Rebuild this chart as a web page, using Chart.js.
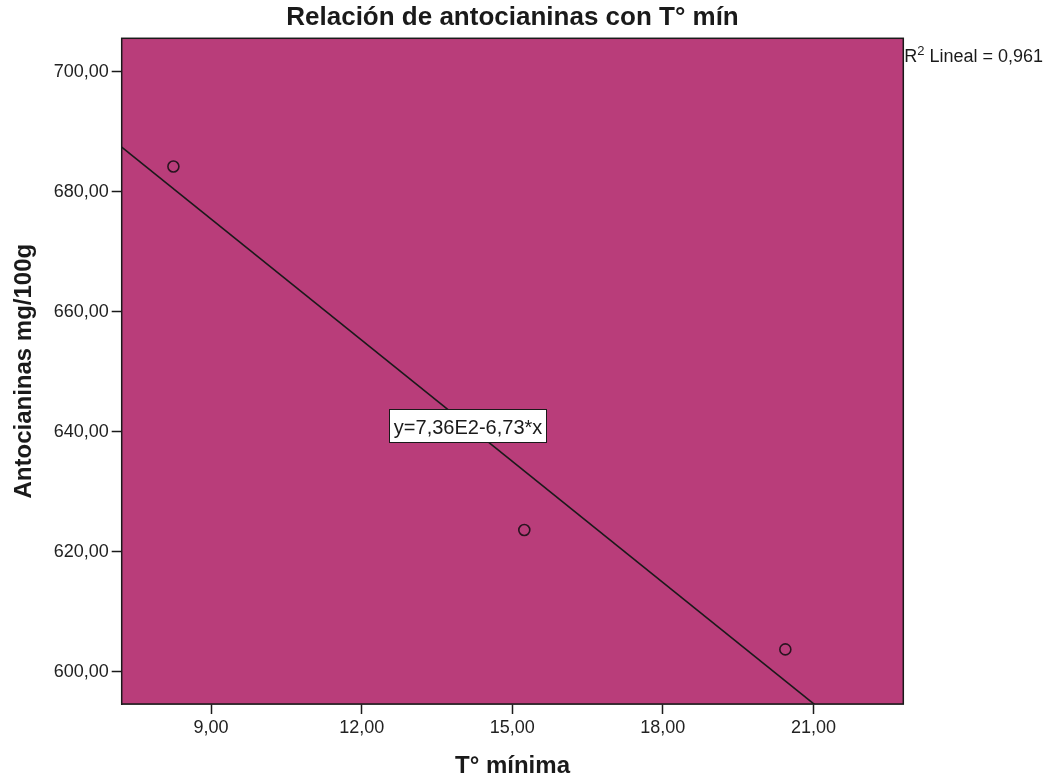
<!DOCTYPE html>
<html>
<head>
<meta charset="utf-8">
<script src="https://cdn.jsdelivr.net/npm/chart.js@4/dist/chart.umd.min.js"></script>
<style>
  html, body { margin: 0; padding: 0; background: #ffffff; }
  #wrap { width: 1052px; height: 783px; position: relative; }
</style>
</head>
<body>
<div id="wrap"><canvas id="c" width="1052" height="783"></canvas></div>
<script>
// ---- data ----
const tempMin = [8.25, 15.24, 20.44];          // T° mínima
const antocianinas = [684.2, 623.6, 603.7];    // Antocianinas mg/100g
const xTicks = [9, 12, 15, 18, 21];
const yTicks = [600, 620, 640, 660, 680, 700];
const fitIntercept = 736;      // y = 7,36E2 - 6,73*x
const fitSlope = -6.73;
const xRange = [7.22, 22.79];
const yRange = [594.6, 705.57];
const titleText = 'Relación de antocianinas con T° mín';
const xTitle = 'T° mínima';
const yTitle = 'Antocianinas mg/100g';
const equationText = 'y=7,36E2-6,73*x';
const equationAnchor = [14.12, 641.0];
const r2Text = ' Lineal = 0,961';

const FONT = '"Liberation Sans", Arial, Helvetica, sans-serif';
const PLOT_BG = '#b93d7a';
const INK = '#1a1a1a';

const fmt = v => v.toFixed(2).replace('.', ',');

const points = tempMin.map((x, i) => ({ x: x, y: antocianinas[i] }));
const fitLine = xRange.map(x => ({ x: x, y: fitIntercept + fitSlope * x }));

const plotDecor = {
  id: 'plotDecor',
  beforeDatasetsDraw(chart) {
    const { ctx, chartArea: a } = chart;
    ctx.save();
    ctx.fillStyle = PLOT_BG;
    ctx.fillRect(a.left, a.top, a.right - a.left, a.bottom - a.top);
    ctx.restore();
  },
  afterDraw(chart) {
    const { ctx, chartArea: a, scales } = chart;
    ctx.save();
    // frame
    ctx.strokeStyle = INK;
    ctx.lineWidth = 1.5;
    ctx.strokeRect(a.left, a.top, a.right - a.left, a.bottom - a.top);

    // equation label
    ctx.font = '20px ' + FONT;
    const cx = scales.x.getPixelForValue(equationAnchor[0]);
    const cy = scales.y.getPixelForValue(equationAnchor[1]);
    const tw = ctx.measureText(equationText).width;
    const bw = tw + 9, bh = 33;
    ctx.fillStyle = '#ffffff';
    ctx.fillRect(cx - bw / 2, cy - bh / 2, bw, bh);
    ctx.lineWidth = 1;
    ctx.strokeStyle = INK;
    ctx.strokeRect(Math.round(cx - bw / 2) + 0.5, Math.round(cy - bh / 2) + 0.5, Math.round(bw), bh);
    ctx.fillStyle = INK;
    ctx.textAlign = 'center';
    ctx.textBaseline = 'alphabetic';
    ctx.fillText(equationText, cx, cy + 8.5);

    // R² label
    ctx.textAlign = 'left';
    let x = a.right + 1;
    const base = 61.7;
    ctx.font = '18px ' + FONT;
    ctx.fillText('R', x, base);
    x += ctx.measureText('R').width;
    ctx.font = '13px ' + FONT;
    ctx.fillText('2', x, base - 7);
    x += ctx.measureText('2').width;
    ctx.font = '18px ' + FONT;
    ctx.fillText(r2Text, x, base);
    ctx.restore();
  }
};

new Chart(document.getElementById('c'), {
  type: 'scatter',
  data: {
    datasets: [
      {
        type: 'line',
        data: fitLine,
        borderColor: INK,
        borderWidth: 1.6,
        pointRadius: 0,
        fill: false,
        tension: 0,
        order: 2
      },
      {
        type: 'scatter',
        data: points,
        pointStyle: 'circle',
        pointRadius: 5.5,
        pointBorderWidth: 1.6,
        borderColor: '#2a1420',
        backgroundColor: 'rgba(0,0,0,0)',
        order: 1
      }
    ]
  },
  options: {
    responsive: false,
    animation: false,
    devicePixelRatio: 1,
    layout: { padding: { left: 0, right: 148.7, top: 0, bottom: 0 } },
    plugins: {
      legend: { display: false },
      tooltip: { enabled: false },
      title: {
        display: true,
        text: titleText,
        fullSize: false,
        color: INK,
        font: { family: FONT, size: 26, weight: 'bold' },
        padding: { top: 2.1, bottom: 5.0 }
      }
    },
    scales: {
      x: {
        type: 'linear',
        min: xRange[0],
        max: xRange[1],
        afterFit(scale) { scale.height = 79; },
        afterBuildTicks(scale) { scale.ticks = xTicks.map(v => ({ value: v })); },
        ticks: {
          color: '#222',
          font: { family: FONT, size: 18 },
          padding: 3,
          callback: v => fmt(v)
        },
        grid: {
          display: true,
          drawOnChartArea: false,
          drawTicks: true,
          tickLength: 10,
          tickColor: INK,
          tickWidth: 1.5
        },
        border: { display: true, color: INK, width: 1.5 },
        title: {
          display: true,
          text: xTitle,
          color: INK,
          font: { family: FONT, size: 24, weight: 'bold' },
          padding: { top: 0, bottom: 2.6 }
        }
      },
      y: {
        type: 'linear',
        min: yRange[0],
        max: yRange[1],
        afterFit(scale) { scale.width = 121.7; },
        afterBuildTicks(scale) { scale.ticks = yTicks.map(v => ({ value: v })); },
        ticks: {
          color: '#222',
          font: { family: FONT, size: 18 },
          padding: 3,
          callback: v => fmt(v)
        },
        grid: {
          display: true,
          drawOnChartArea: false,
          drawTicks: true,
          tickLength: 10,
          tickColor: INK,
          tickWidth: 1.5
        },
        border: { display: true, color: INK, width: 1.5 },
        title: {
          display: true,
          text: yTitle,
          color: INK,
          font: { family: FONT, size: 24, weight: 'bold' },
          padding: { top: 10, bottom: 0 }
        }
      }
    }
  },
  plugins: [plotDecor]
});
</script>
</body>
</html>
